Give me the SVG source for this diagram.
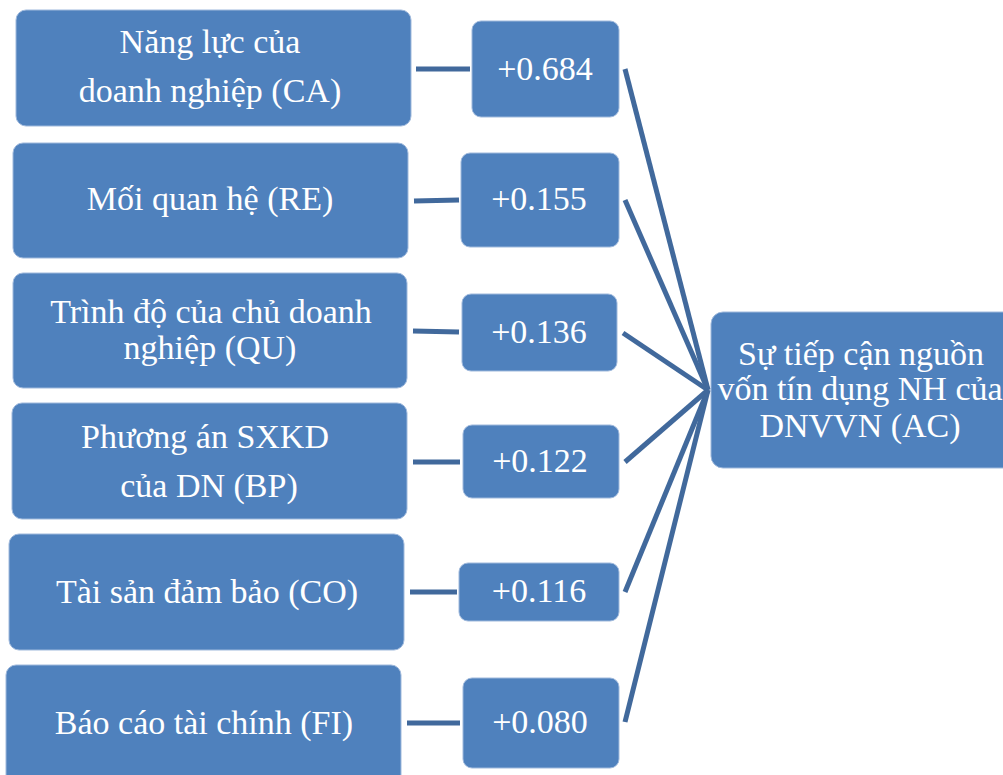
<svg xmlns="http://www.w3.org/2000/svg" width="1003" height="775" viewBox="0 0 1003 775">
  <style>
    .box { fill: #4f81bd; stroke: #9fb9dc; stroke-width: 1; }
    .lbl { fill: #ffffff; font-family: "Liberation Serif", "Times New Roman", serif; font-size: 34px; text-anchor: middle; }
    .link { stroke: #41699c; stroke-width: 5; fill: none; stroke-linecap: butt; }
  </style>
  <rect width="1003" height="775" fill="#ffffff"/>

  <!-- factor boxes -->
  <g id="node-ca">
    <rect class="box" x="16" y="10" width="395" height="116" rx="10"/>
    <text class="lbl" x="210" y="53">Năng lực của</text>
    <text class="lbl" x="210" y="102">doanh nghiệp (CA)</text>
  </g>
  <g id="node-re">
    <rect class="box" x="13" y="143" width="395" height="115" rx="10"/>
    <text class="lbl" x="210" y="210">Mối quan hệ (RE)</text>
  </g>
  <g id="node-qu">
    <rect class="box" x="13" y="273" width="394" height="115" rx="10"/>
    <text class="lbl" x="211" y="323">Trình độ của chủ doanh</text>
    <text class="lbl" x="210" y="359">nghiệp (QU)</text>
  </g>
  <g id="node-bp">
    <rect class="box" x="12" y="403" width="395" height="116" rx="10"/>
    <text class="lbl" x="205" y="448">Phương án SXKD</text>
    <text class="lbl" x="209" y="497">của DN (BP)</text>
  </g>
  <g id="node-co">
    <rect class="box" x="9" y="534" width="395" height="116" rx="10"/>
    <text class="lbl" x="207" y="603">Tài sản đảm bảo (CO)</text>
  </g>
  <g id="node-fi">
    <rect class="box" x="6" y="665" width="395" height="125" rx="10"/>
    <text class="lbl" x="204" y="734">Báo cáo tài chính (FI)</text>
  </g>

  <!-- coefficient boxes -->
  <g id="coef-ca">
    <rect class="box" x="472" y="21" width="147" height="96" rx="9"/>
    <text class="lbl" x="545" y="80">+0.684</text>
  </g>
  <g id="coef-re">
    <rect class="box" x="461" y="153" width="158" height="94" rx="9"/>
    <text class="lbl" x="539" y="210">+0.155</text>
  </g>
  <g id="coef-qu">
    <rect class="box" x="462" y="294" width="155" height="77" rx="9"/>
    <text class="lbl" x="539" y="343">+0.136</text>
  </g>
  <g id="coef-bp">
    <rect class="box" x="463" y="425" width="156" height="73" rx="9"/>
    <text class="lbl" x="540" y="472">+0.122</text>
  </g>
  <g id="coef-co">
    <rect class="box" x="459" y="563" width="160" height="58" rx="9"/>
    <text class="lbl" x="539" y="602">+0.116</text>
  </g>
  <g id="coef-fi">
    <rect class="box" x="463" y="678" width="156" height="90" rx="9"/>
    <text class="lbl" x="540" y="733">+0.080</text>
  </g>

  <!-- outcome box -->
  <g id="node-ac">
    <rect class="box" x="711" y="312" width="310" height="156" rx="12"/>
    <text class="lbl" x="861" y="365">Sự tiếp cận nguồn</text>
    <text class="lbl" x="860" y="400">vốn tín dụng NH của</text>
    <text class="lbl" x="860" y="437">DNVVN (AC)</text>
  </g>

  <!-- connectors -->
  <g id="connectors">
    <line class="link" x1="416" y1="69" x2="470" y2="69"/>
    <line class="link" x1="414" y1="201" x2="459" y2="200"/>
    <line class="link" x1="413" y1="331" x2="459" y2="332"/>
    <line class="link" x1="413" y1="462" x2="460" y2="462"/>
    <line class="link" x1="410" y1="592" x2="457" y2="592"/>
    <line class="link" x1="407" y1="723" x2="460" y2="723"/>

    <line class="link" x1="625" y1="69" x2="708" y2="390"/>
    <line class="link" x1="625" y1="200" x2="708" y2="390"/>
    <line class="link" x1="623" y1="333" x2="708" y2="390"/>
    <line class="link" x1="625" y1="462" x2="708" y2="390"/>
    <line class="link" x1="625" y1="592" x2="708" y2="390"/>
    <line class="link" x1="625" y1="722" x2="708" y2="390"/>
  </g>
</svg>
